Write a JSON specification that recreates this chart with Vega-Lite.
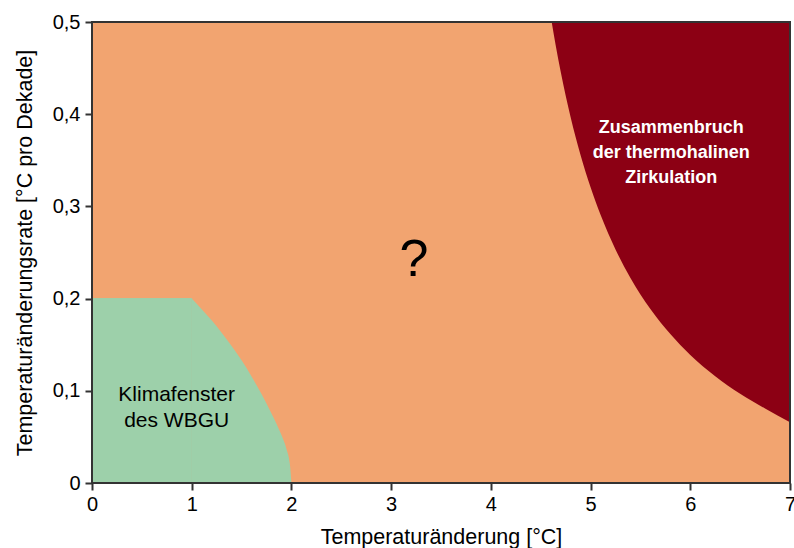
{
  "$schema": "https://vega.github.io/schema/vega-lite/v6.json",
  "width": 698,
  "height": 461,
  "autosize": "none",
  "padding": {"left": 92, "top": 22, "right": 4, "bottom": 65},
  "background": "white",
  "config": {
    "view": {"fill": "#F2A470", "stroke": null},
    "font": "Liberation Sans",
    "axis": {
      "domain": false,
      "grid": false,
      "ticks": true,
      "tickColor": "#333333",
      "tickWidth": 2,
      "tickSize": 7,
      "labelFlush": false,
      "labelOverlap": false,
      "labelFont": "Liberation Sans",
      "labelFontSize": 20,
      "labelColor": "#000000",
      "titleFont": "Liberation Sans",
      "titleFontSize": 21.5,
      "titleFontWeight": "normal",
      "titleColor": "#000000",
      "zindex": 1
    }
  },
  "layer": [
    {
      "data": {"values": [{"x0": 0, "x1": 1, "y0": 0, "y1": 0.2}]},
      "mark": {"type": "rect", "fill": "#9DD0AA", "stroke": "#9DD0AA", "strokeWidth": 1},
      "encoding": {
        "x": {"field": "x0", "type": "quantitative", "scale": {"domain": [0, 7], "nice": false},
          "axis": {"values": [0,1,2,3,4,5,6,7], "format": "d", "title": "Temperaturänderung [°C]", "labelPadding": 4, "titleY": 60, "titleBaseline": "alphabetic"}},
        "x2": {"field": "x1"},
        "y": {"field": "y0", "type": "quantitative", "scale": {"domain": [0, 0.5], "nice": false},
          "axis": {"values": [0, 0.1, 0.2, 0.3, 0.4, 0.5], "title": "Temperaturänderungsrate [°C pro Dekade]",
            "labelExpr": "datum.value === 0 ? '0' : replace(format(datum.value, '.1f'), '.', ',')",
            "labelPadding": 5, "titleX": -61, "titleBaseline": "alphabetic"}},
        "y2": {"field": "y1"}
      }
    },
    {
      "data": {"values": [
        {"x": 1.0, "y": 0.2},
        {"x": 1.1, "y": 0.1885},
        {"x": 1.2, "y": 0.1765},
        {"x": 1.3, "y": 0.163},
        {"x": 1.4, "y": 0.1485},
        {"x": 1.5, "y": 0.133},
        {"x": 1.6, "y": 0.1155},
        {"x": 1.7, "y": 0.0965},
        {"x": 1.8, "y": 0.0755},
        {"x": 1.9, "y": 0.052},
        {"x": 1.95, "y": 0.037},
        {"x": 1.985, "y": 0.020},
        {"x": 2.0, "y": 0}
      ]},
      "mark": {"type": "area", "color": "#9DD0AA", "interpolate": "monotone"},
      "encoding": {
        "x": {"field": "x", "type": "quantitative"},
        "y": {"field": "y", "type": "quantitative"},
        "y2": {"datum": 0}
      }
    },
    {
      "data": {"values": [
        {"x": 4.61, "y": 0.5},
        {"x": 4.65, "y": 0.4748},
        {"x": 4.70, "y": 0.4462},
        {"x": 4.75, "y": 0.4203},
        {"x": 4.80, "y": 0.3968},
        {"x": 4.90, "y": 0.3556},
        {"x": 5.00, "y": 0.3208},
        {"x": 5.10, "y": 0.2909},
        {"x": 5.25, "y": 0.2533},
        {"x": 5.40, "y": 0.2224},
        {"x": 5.60, "y": 0.1887},
        {"x": 5.80, "y": 0.1615},
        {"x": 6.00, "y": 0.1389},
        {"x": 6.25, "y": 0.1158},
        {"x": 6.50, "y": 0.0967},
        {"x": 6.75, "y": 0.0808},
        {"x": 7.00, "y": 0.066}
      ]},
      "mark": {"type": "area", "color": "#8C0014", "interpolate": "monotone"},
      "encoding": {
        "x": {"field": "x", "type": "quantitative"},
        "y": {"field": "y", "type": "quantitative"},
        "y2": {"datum": 0.5}
      }
    },
    {
      "data": {"values": [{"x0": 0, "x1": 7, "y0": 0, "y1": 0.5}]},
      "mark": {"type": "rect", "fill": null, "fillOpacity": 0, "stroke": "#333333", "strokeWidth": 2},
      "encoding": {
        "x": {"field": "x0", "type": "quantitative"},
        "x2": {"field": "x1"},
        "y": {"field": "y0", "type": "quantitative"},
        "y2": {"field": "y1"}
      }
    },
    {
      "data": {"values": [
        {"x": 0.849, "y": 0.0893, "label": "Klimafenster\ndes WBGU"}
      ]},
      "mark": {"type": "text", "fontSize": 21, "color": "#000000", "align": "center", "baseline": "alphabetic", "lineBreak": "\n", "lineHeight": 26},
      "encoding": {
        "x": {"field": "x", "type": "quantitative"},
        "y": {"field": "y", "type": "quantitative"},
        "text": {"field": "label"}
      }
    },
    {
      "data": {"values": [
        {"x": 5.81, "y": 0.3793, "label": "Zusammenbruch\nder thermohalinen\nZirkulation"}
      ]},
      "mark": {"type": "text", "fontSize": 18, "fontWeight": "bold", "color": "#FFFFFF", "align": "center", "baseline": "alphabetic", "lineBreak": "\n", "lineHeight": 25},
      "encoding": {
        "x": {"field": "x", "type": "quantitative"},
        "y": {"field": "y", "type": "quantitative"},
        "text": {"field": "label"}
      }
    },
    {
      "data": {"values": [
        {"x": 3.23, "y": 0.2245, "label": "?"}
      ]},
      "mark": {"type": "text", "fontSize": 52, "color": "#000000", "align": "center", "baseline": "alphabetic"},
      "encoding": {
        "x": {"field": "x", "type": "quantitative"},
        "y": {"field": "y", "type": "quantitative"},
        "text": {"field": "label"}
      }
    }
  ]
}
